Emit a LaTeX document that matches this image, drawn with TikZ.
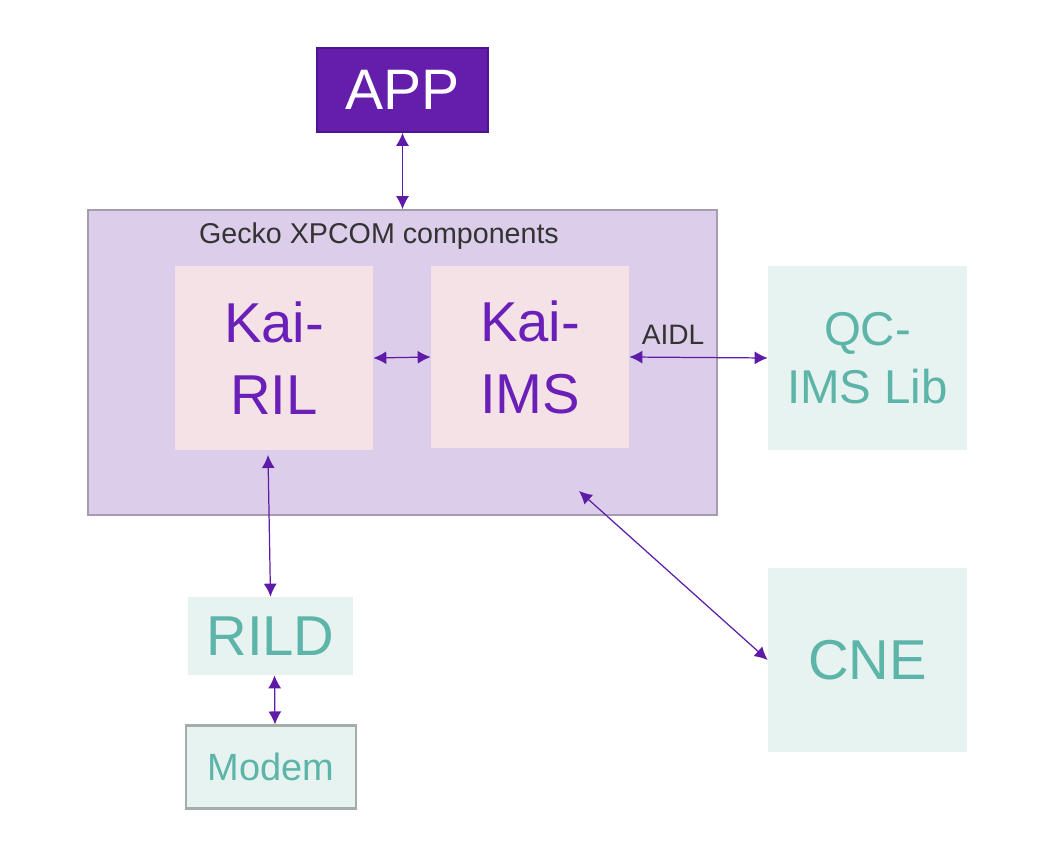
\documentclass[tikz,border=0pt]{standalone}
\usepackage{fontspec}
\setmainfont{Liberation Sans}
\usetikzlibrary{arrows.meta}

\definecolor{appfill}{HTML}{651EAC}
\definecolor{appline}{HTML}{4B1590}
\definecolor{geckofill}{HTML}{DCCEEA}
\definecolor{geckoline}{HTML}{A69CB1}
\definecolor{kaifill}{HTML}{F5E2E6}
\definecolor{kaitext}{HTML}{6A1FB8}
\definecolor{tealfill}{HTML}{E6F3F1}
\definecolor{tealtext}{HTML}{5DB4A8}
\definecolor{modemline}{HTML}{A5ADAB}
\definecolor{arrowcol}{HTML}{5E1BA8}
\definecolor{labeltext}{HTML}{333333}

\tikzset{
  box/.style={inner sep=0pt, align=center},
  kaibox/.style={box, fill=kaifill, text=kaitext, minimum width=3.96cm, minimum height=3.68cm,
    font=\fontsize{32}{41}\selectfont},
  tealbox/.style={box, fill=tealfill, text=tealtext},
  biarrow/.style={draw=arrowcol, line width=0.7pt, {Latex[length=2.6mm,width=2.6mm]}-{Latex[length=2.6mm,width=2.6mm]}}
}

\begin{document}
\begin{tikzpicture}[x=0.02cm, y=-0.02cm]

    % --- Canvas ---
    \useasboundingbox (0,0) rectangle (1048,868);

    % --- Define Nodes ---
    % APP at the top
    \node[box, fill=appfill, draw=appline, line width=1pt, text=white,
      minimum width=3.42cm, minimum height=1.68cm, font=\fontsize{32.5}{38}\selectfont]
      (app) at (402.5,90) {APP};

    % Gecko container
    \node[box, fill=geckofill, draw=geckoline, line width=1pt,
      minimum width=12.58cm, minimum height=6.10cm] (gecko) at (402.5,362.5) {};
    \node[text=labeltext, font=\fontsize{16.3}{20}\selectfont] (geckolabel) at (379,236) {Gecko XPCOM components};

    % Kai components inside the container
    \node[kaibox] (ril) at (274,358) {Kai-\\RIL};
    \node[kaibox, minimum height=3.64cm] (ims) at (530,357) {Kai-\\IMS};

    % QC-IMS Lib on the right
    \node[tealbox, minimum width=3.98cm, minimum height=3.68cm,
      font=\fontsize{27}{33}\selectfont] (qc) at (867.5,358) {QC-\\IMS Lib};

    % CNE lower right
    \node[tealbox, minimum width=3.98cm, minimum height=3.68cm,
      font=\fontsize{32}{38}\selectfont] (cne) at (867.5,660) {CNE};

    % RILD and Modem lower left
    \node[tealbox, minimum width=3.3cm, minimum height=1.56cm,
      font=\fontsize{32}{38}\selectfont] (rild) at (270.5,636) {RILD};
    \node[tealbox, draw=modemline, line width=1.2pt, minimum width=3.4cm, minimum height=1.66cm,
      font=\fontsize{21.6}{26}\selectfont] (modem) at (271,767) {Modem};

    % Free arrow ends
    \coordinate (rilout) at (268,455);
    \coordinate (geckoout) at (579,491);

    % --- Draw Connectors ---
    \draw[biarrow] (app.south) -- (gecko.north);
    \draw[biarrow] (ril.east) -- (ims.west);
    \draw[biarrow] (ims.east) -- (qc.west);
    \draw[biarrow] (rilout) -- (rild.north);
    \draw[biarrow] ([xshift=0.08cm]rild.south) -- ([xshift=0.08cm]modem.north);
    \draw[biarrow] (geckoout) -- (cne.west);

    % --- Place Labels ---
    \node[text=labeltext, font=\fontsize{16}{20}\selectfont] (aidl) at (673,335) {AIDL};

\end{tikzpicture}
\end{document}
